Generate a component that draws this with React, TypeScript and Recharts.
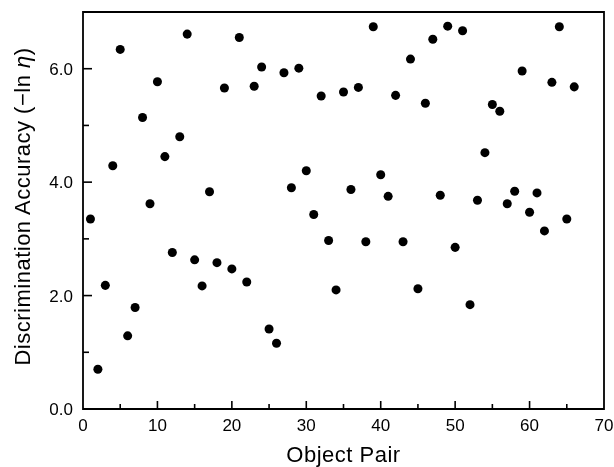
import { ScatterChart, Scatter, XAxis, YAxis, ZAxis, ReferenceArea } from 'recharts';

const objectPairs = [
  1, 2, 3, 4, 5, 6, 7, 8, 9, 10, 11, 12, 13, 14, 15, 16, 17, 18, 19, 20, 21, 22,
  23, 24, 25, 26, 27, 28, 29, 30, 31, 32, 33, 34, 35, 36, 37, 38, 39, 40, 41, 42, 43, 44,
  45, 46, 47, 48, 49, 50, 51, 52, 53, 54, 55, 56, 57, 58, 59, 60, 61, 62, 63, 64, 65, 66,
];

const accuracy = [
  3.35, 0.7, 2.18, 4.29, 6.34, 1.29, 1.79, 5.14, 3.62, 5.77, 4.45, 2.76, 4.8, 6.61, 2.63,
  2.17, 3.83, 2.58, 5.66, 2.47, 6.55, 2.24, 5.69, 6.03, 1.41, 1.16, 5.93, 3.9, 6.01, 4.2,
  3.43, 5.52, 2.97, 2.1, 5.59, 3.87, 5.67, 2.95, 6.74, 4.13, 3.75, 5.53, 2.95, 6.17, 2.12,
  5.39, 6.52, 3.77, 6.75, 2.85, 6.67, 1.84, 3.68, 4.52, 5.37, 5.25, 3.62, 3.84, 5.96, 3.47,
  3.81, 3.14, 5.76, 6.74, 3.35, 5.68,
];

const xTicks = [0, 5, 10, 15, 20, 25, 30, 35, 40, 45, 50, 55, 60, 65, 70];
const yTicks = [0, 1, 2, 3, 4, 5, 6, 7];
const xLabelled = [0, 10, 20, 30, 40, 50, 60, 70];
const yLabelled = [0, 2, 4, 6];

const points = objectPairs.map((p, i) => ({ pair: p, acc: accuracy[i] }));

const FONT = '"Liberation Sans", Arial, Helvetica, sans-serif';

const XTick = (props: any) => {
  const { x, y, payload } = props;
  const v = payload.value;
  const major = xLabelled.includes(v);
  return (
    <g>
      {v !== 0 && v !== 70 && (
        <line x1={x} x2={x} y1={y} y2={y - (major ? 8 : 5)} stroke="#000" strokeWidth={1.6} />
      )}
      {major && (
        <text x={x} y={y + 10} dy="0.71em" textAnchor="middle" fontSize={17} fontFamily={FONT} fill="#000">
          {v}
        </text>
      )}
    </g>
  );
};

const YTick = (props: any) => {
  const { x, y, payload } = props;
  const v = payload.value;
  const major = yLabelled.includes(v);
  return (
    <g>
      {v !== 0 && v !== 7 && (
        <line x1={x} x2={x + (major ? 9 : 6)} y1={y} y2={y} stroke="#000" strokeWidth={1.6} />
      )}
      {major && (
        <text x={x - 10} y={y} dy="0.36em" textAnchor="end" fontSize={17} fontFamily={FONT} fill="#000">
          {v.toFixed(1)}
        </text>
      )}
    </g>
  );
};

const YTitle = (props: any) => {
  const { viewBox } = props;
  const cx = 22;
  const cy = viewBox.y + viewBox.height / 2 - 4;
  return (
    <text
      x={cx}
      y={cy}
      transform={`rotate(-90, ${cx}, ${cy})`}
      textAnchor="middle"
      dy="0.36em"
      fontSize={22}
      letterSpacing={0.5}
      fontFamily={FONT}
      fill="#000"
    >
      Discrimination Accuracy (−ln <tspan fontStyle="italic">η</tspan>)
    </text>
  );
};

const XTitle = (props: any) => {
  const { viewBox } = props;
  const cx = viewBox.x + viewBox.width / 2;
  return (
    <text
      x={cx}
      y={viewBox.y + 45}
      dy="0.36em"
      textAnchor="middle"
      fontSize={22}
      letterSpacing={0.5}
      fontFamily={FONT}
      fill="#000"
    >
      Object Pair
    </text>
  );
};

export default function App() {
  return (
    <div style={{ position: 'fixed', left: 0, top: 0, width: 614, height: 467 }}>
      <ScatterChart width={614} height={467} margin={{ top: 12, right: 10, left: 8, bottom: 0 }}>
        <XAxis
          type="number"
          dataKey="pair"
          domain={[0, 70]}
          ticks={xTicks}
          interval={0}
          height={58}
          tickSize={0}
          tickMargin={0}
          tickLine={false}
          axisLine={false}
          tick={<XTick />}
          label={{ content: <XTitle /> }}
        />
        <YAxis
          type="number"
          dataKey="acc"
          domain={[0, 7]}
          ticks={yTicks}
          interval={0}
          width={75}
          tickSize={0}
          tickMargin={0}
          tickLine={false}
          axisLine={false}
          tick={<YTick />}
          label={{ content: <YTitle /> }}
        />
        <ZAxis range={[68, 68]} />
        <ReferenceArea x1={0} x2={70} y1={0} y2={7} fill="none" stroke="#000" strokeWidth={1.8} />
        <Scatter data={points} fill="#000" isAnimationActive={false} />
      </ScatterChart>
    </div>
  );
}
